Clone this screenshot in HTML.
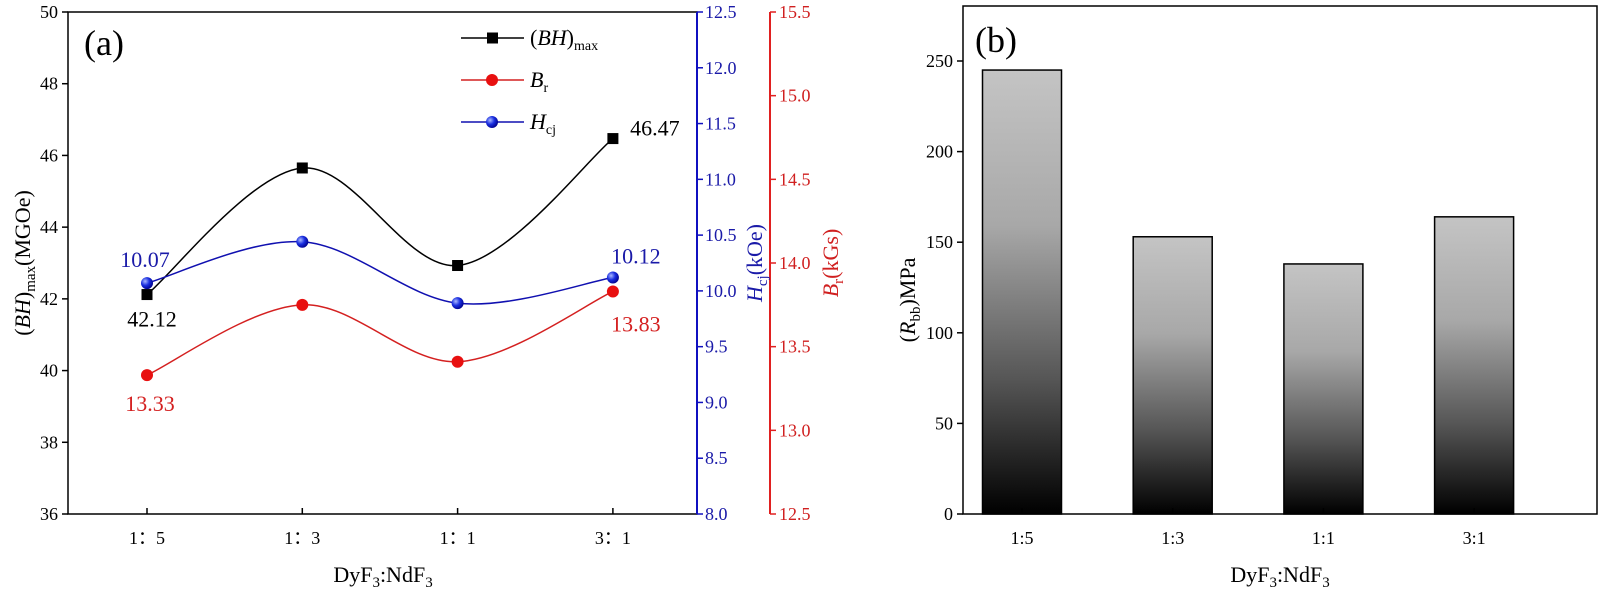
<!DOCTYPE html>
<html><head><meta charset="utf-8">
<style>
html,body{margin:0;padding:0;background:#fff;}
svg{display:block;font-family:"Liberation Serif","Times New Roman",serif;}
</style></head>
<body>
<svg id="chart" width="1600" height="601" viewBox="0 0 1600 601">
<defs>
<linearGradient id="barGrad" x1="0" y1="0" x2="0" y2="1">
<stop offset="0" stop-color="#c4c4c4"/>
<stop offset="0.35" stop-color="#a8a8a8"/>
<stop offset="0.7" stop-color="#555"/>
<stop offset="1" stop-color="#000"/>
</linearGradient>
<radialGradient id="blueBall" cx="0.35" cy="0.35" r="0.7"><stop offset="0" stop-color="#aab8ff"/><stop offset="0.5" stop-color="#1a2fe0"/><stop offset="1" stop-color="#00008b"/></radialGradient>
</defs>
<g id="left"></g>
<g id="right"></g>
</svg>
<script>
const categoriesA = ["1\uFF1A5","1\uFF1A3","1\uFF1A1","3\uFF1A1"];
const bhValues = [42.12, 45.65, 42.93, 46.47];
const hcjValues = [10.07, 10.44, 9.89, 10.12];
const brValues = [13.33, 13.75, 13.41, 13.83];
const bhLabels = ["42.12", "", "", "46.47"];
const hcjLabels = ["10.07", "", "", "10.12"];
const brLabels = ["13.33", "", "", "13.83"];
const bhTicks = [36,38,40,42,44,46,48,50];
const hcjTicks = [8.0,8.5,9.0,9.5,10.0,10.5,11.0,11.5,12.0,12.5];
const brTicks = [12.5,13.0,13.5,14.0,14.5,15.0,15.5];
const categoriesB = ["1:5","1:3","1:1","3:1"];
const rbbValues = [245, 153, 138, 164];
const rbbTicks = [0,50,100,150,200,250];

const NS="http://www.w3.org/2000/svg";
function mk(tag, attrs, parent, text){
  const e=document.createElementNS(NS,tag);
  for(const k in attrs) e.setAttribute(k, attrs[k]);
  if(text!==undefined) e.textContent=text;
  parent.appendChild(e); return e;
}
const L=document.getElementById('left'), R=document.getElementById('right');

// ---------- Panel (a) ----------
const ax={x0:68,x1:697,y0:514,y1:12};
const xA=i=>147+i*155.3;
const yBH=v=>ax.y0-(v-36)/14*(ax.y0-ax.y1);
const yH=v=>ax.y0-(v-8)/4.5*(ax.y0-ax.y1);
const yBr=v=>ax.y0-(v-12.5)/3*(ax.y0-ax.y1);

let e=mk('rect',{x:ax.x0,y:ax.y1,width:ax.x1-ax.x0,height:ax.y0-ax.y1,fill:'none',stroke:'#000','stroke-width':1.5},L);


e=mk('line',{x1:ax.x1,y1:ax.y1,x2:ax.x1,y2:ax.y0,stroke:'#1010c0','stroke-width':2},L);


e=mk('line',{x1:770,y1:ax.y1,x2:770,y2:ax.y0,stroke:'#e02020','stroke-width':2},L);



bhTicks.forEach(t=>{
  const y=yBH(t);
  mk('line',{x1:ax.x0-6,y1:y,x2:ax.x0,y2:y,stroke:'#000','stroke-width':1.5},L);
  e=mk('text',{x:ax.x0-10,y:y+6,'text-anchor':'end','font-size':18},L,String(t));
  
  
});
hcjTicks.forEach(t=>{
  const y=yH(t);
  mk('line',{x1:ax.x1,y1:y,x2:ax.x1+6,y2:y,stroke:'#1010c0','stroke-width':1.5},L);
  e=mk('text',{x:ax.x1+8,y:y+6,'font-size':18,fill:'#1a1aa8'},L,t.toFixed(1));
  
  
});
brTicks.forEach(t=>{
  const y=yBr(t);
  mk('line',{x1:770,y1:y,x2:776,y2:y,stroke:'#e02020','stroke-width':1.5},L);
  e=mk('text',{x:779,y:y+6,'font-size':18,fill:'#d02020'},L,t.toFixed(1));
  
  
});
categoriesA.forEach((c,i)=>{
  mk('line',{x1:xA(i),y1:ax.y0,x2:xA(i),y2:ax.y0-6,stroke:'#000','stroke-width':1.5},L);
  e=mk('text',{x:xA(i),y:ax.y0+30,'text-anchor':'middle','font-size':18},L,c);
  
  
});
e=mk('text',{x:383,y:582,'text-anchor':'middle','font-size':22},L);
e.innerHTML='DyF<tspan font-size="15" dy="5">3</tspan><tspan dy="-5">:NdF</tspan><tspan font-size="15" dy="5">3</tspan>';


e=mk('text',{transform:'translate(30,263) rotate(-90)','text-anchor':'middle','font-size':22},L);
e.innerHTML='(<tspan font-style="italic">BH</tspan>)<tspan font-size="15" dy="5">max</tspan><tspan dy="-5">(MGOe)</tspan>';


e=mk('text',{transform:'translate(762,263) rotate(-90)','text-anchor':'middle','font-size':22,fill:'#1a1aa8'},L);
e.innerHTML='<tspan font-style="italic">H</tspan><tspan font-size="15" dy="5">cj</tspan><tspan dy="-5">(kOe)</tspan>';


e=mk('text',{transform:'translate(838,263) rotate(-90)','text-anchor':'middle','font-size':22,fill:'#d02020'},L);
e.innerHTML='<tspan font-style="italic">B</tspan><tspan font-size="15" dy="5">r</tspan><tspan dy="-5">(kGs)</tspan>';


e=mk('text',{x:84,y:55,'font-size':36},L,'(a)');



function spline(pts){
  let d=`M${pts[0][0]},${pts[0][1]}`;
  for(let i=0;i<pts.length-1;i++){
    const p0=pts[Math.max(0,i-1)],p1=pts[i],p2=pts[i+1],p3=pts[Math.min(pts.length-1,i+2)];
    const c1=[p1[0]+(p2[0]-p0[0])/6,p1[1]+(p2[1]-p0[1])/6];
    const c2=[p2[0]-(p3[0]-p1[0])/6,p2[1]-(p3[1]-p1[1])/6];
    d+=` C${c1[0]},${c1[1]} ${c2[0]},${c2[1]} ${p2[0]},${p2[1]}`;
  }
  return d;
}
function series(vals,yf,color,name,marker){
  const pts=vals.map((v,i)=>[xA(i),yf(v)]);
  let p=mk('path',{d:spline(pts),fill:'none',stroke:color,'stroke-width':1.5},L);
  
  
  pts.forEach(q=>{
    let m;
    if(marker==='square') m=mk('rect',{x:q[0]-5.5,y:q[1]-5.5,width:11,height:11,fill:'#000'},L);
    else if(marker==='hex') m=mk('circle',{cx:q[0],cy:q[1],r:6,fill:'#e81010'},L);
    else m=mk('circle',{cx:q[0],cy:q[1],r:6,fill:'url(#blueBall)'},L);
    
    
  });
  return pts;
}
const bhP=series(bhValues,yBH,'#000','bhmax','square');
const brP=series(brValues,yBr,'#d42020','br','hex');
const hP=series(hcjValues,yH,'#1010b0','hcj','ball');
function labels(pts,lbls,color,dx,dy,name){
  lbls.forEach((s,i)=>{ if(!s) return;
    let t=mk('text',{x:pts[i][0]+dx[i],y:pts[i][1]+dy[i],'text-anchor':'middle','font-size':22,fill:color},L,s);
    
    
  });
}
labels(bhP,bhLabels,'#000',[5,0,0,42],[32,0,0,-3],'bhmax');
labels(hP,hcjLabels,'#1a1aa8',[-2,0,0,23],[-16,0,0,-14],'hcj');
labels(brP,brLabels,'#d42020',[3,0,0,23],[36,0,0,40],'br');

// legend
const legend=[["bhmax",'#000','square',38,'(<tspan font-style="italic">BH</tspan>)<tspan font-size="14" dy="5">max</tspan>'],
 ["br",'#d42020','hex',80,'<tspan font-style="italic">B</tspan><tspan font-size="14" dy="5">r</tspan>'],
 ["hcj",'#1010b0','ball',122,'<tspan font-style="italic">H</tspan><tspan font-size="14" dy="5">cj</tspan>']];
legend.forEach(l=>{
  const g=mk('g',{},L);
  
  
  mk('line',{x1:461,y1:l[3],x2:524,y2:l[3],stroke:l[1],'stroke-width':1.5},g);
  if(l[2]==='square') mk('rect',{x:487,y:l[3]-5.5,width:11,height:11,fill:'#000'},g);
  else if(l[2]==='hex') mk('circle',{cx:492,cy:l[3],r:6,fill:'#e81010'},g);
  else mk('circle',{cx:492,cy:l[3],r:6,fill:'url(#blueBall)'},g);
  const t=mk('text',{x:530,y:l[3]+7,'font-size':22},g);
  t.innerHTML=l[4];
});

// ---------- Panel (b) ----------
const bx={x0:963,x1:1597,y0:514,y1:6};
const xB=i=>1022+i*150.7;
const yB=v=>bx.y0-v/250*(bx.y0-61);
const barW=79;
e=mk('rect',{x:bx.x0,y:bx.y1,width:bx.x1-bx.x0,height:bx.y0-bx.y1,fill:'none',stroke:'#000','stroke-width':1.5},R);


rbbValues.forEach((v,i)=>{
  const b=mk('rect',{x:xB(i)-barW/2,y:yB(v),width:barW,height:bx.y0-yB(v),fill:'url(#barGrad)',stroke:'#000','stroke-width':1.5},R);
  
  
});
rbbTicks.forEach(t=>{
  const y=yB(t);
  mk('line',{x1:bx.x0-6,y1:y,x2:bx.x0,y2:y,stroke:'#000','stroke-width':1.5},R);
  e=mk('text',{x:bx.x0-10,y:y+6,'text-anchor':'end','font-size':18},R,String(t));
  
  
});
categoriesB.forEach((c,i)=>{
  mk('line',{x1:xB(i),y1:bx.y0,x2:xB(i),y2:bx.y0-6,stroke:'#000','stroke-width':1.5},R);
  e=mk('text',{x:xB(i),y:bx.y0+30,'text-anchor':'middle','font-size':18},R,c);
  
  
});
e=mk('text',{x:1280,y:582,'text-anchor':'middle','font-size':22},R);
e.innerHTML='DyF<tspan font-size="15" dy="5">3</tspan><tspan dy="-5">:NdF</tspan><tspan font-size="15" dy="5">3</tspan>';


e=mk('text',{transform:'translate(915,300) rotate(-90)','text-anchor':'middle','font-size':22},R);
e.innerHTML='(<tspan font-style="italic">R</tspan><tspan font-size="15" dy="5">bb</tspan><tspan dy="-5">)MPa</tspan>';


e=mk('text',{x:975,y:52,'font-size':36},R,'(b)');


</script>
</body></html>
